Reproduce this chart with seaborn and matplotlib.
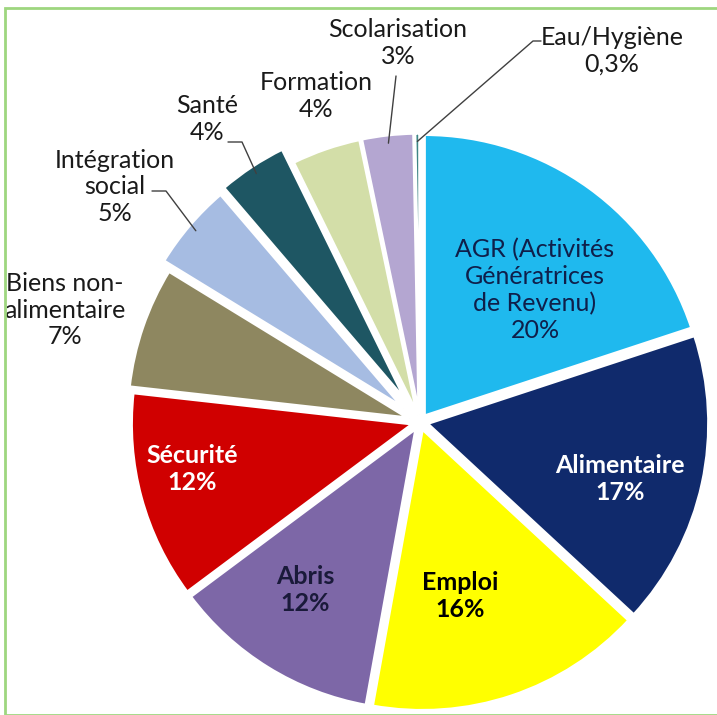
import matplotlib
matplotlib.use("Agg")
import matplotlib.pyplot as plt
import seaborn as sns
import numpy as np
from matplotlib.patches import Rectangle

# data
categories = ["AGR (Activités\nGénératrices\nde Revenu)", "Alimentaire", "Emploi", "Abris", "Sécurité",
              "Biens non-\nalimentaire", "Intégration\nsocial", "Santé", "Formation", "Scolarisation", "Eau/Hygiène"]
values = [20, 17, 16, 12, 12, 7, 5, 4, 4, 3, 0.3]
pct_labels = ["20%", "17%", "16%", "12%", "12%", "7%", "5%", "4%", "4%", "3%", "0,3%"]
colors = ["#1FB9EE", "#102A6C", "#FFFF00", "#7D67A7", "#D00000", "#8E8760",
          "#A6BCE2", "#1E5663", "#D3DEA8", "#B4A6D1", "#3E8686"]

sns.set_theme(style="white")
plt.rcParams["font.family"] = ["Lato", "DejaVu Sans"]

W, H, DPI = 717, 715, 100
CX, CY, R = 420, 422, 282  # pie centre / radius in pixels
FS = 18


def px(x, y):
    return (x - CX) / R, (CY - y) / R


fig = plt.figure(figsize=(W / DPI, H / DPI), dpi=DPI)
ax = fig.add_axes([0, 0, 1, 1])

explode = [0.025, 0.025, 0.025, 0.025, 0.025, 0.04, 0.075, 0.085, 0.025, 0.025, 0.025]
wedges, _ = ax.pie(values, colors=sns.color_palette(colors), startangle=90, counterclock=False,
                   explode=explode, radius=1.0,
                   wedgeprops=dict(edgecolor="white", linewidth=2.5))

# pie() resets the limits, so set them afterwards
ax.set_xlim(-CX / R, (W - CX) / R)
ax.set_ylim(-(H - CY) / R, CY / R)
ax.set_aspect("equal")
ax.axis("off")

# labels inside the big slices
inside = [
    (0, (535, 290), "#0F1F4A", "normal"),
    (1, (620, 479), "white", "bold"),
    (2, (460, 596), "black", "bold"),
    (3, (305, 590), "#1A1A3A", "bold"),
    (4, (192, 469), "white", "bold"),
]
for i, pos, col, weight in inside:
    x, y = px(*pos)
    ax.text(x, y, categories[i] + "\n" + pct_labels[i], ha="center", va="center",
            fontsize=FS, color=col, fontweight=weight, linespacing=1.2)

# labels outside the small slices
outside = [
    (5, (65, 310)),
    (6, (115, 187)),
    (7, (207, 119)),
    (8, (316, 96)),
    (9, (398, 43)),
    (10, (612, 51)),
]
for i, pos in outside:
    x, y = px(*pos)
    ax.text(x, y, categories[i] + "\n" + pct_labels[i], ha="center", va="center",
            fontsize=FS, color="#1A1A1A", linespacing=1.2)

# leader lines from label to slice edge
leaders = [
    (6, [(152, 191), (166, 191)]),
    (7, [(228, 142), (242, 142)]),
    (9, [(396, 76), (396, 76)]),
    (10, [(541, 41), (533, 41)]),
]
for i, pts in leaders:
    w = wedges[i]
    mid = np.deg2rad((w.theta1 + w.theta2) / 2)
    cx, cy = w.center
    tip = (cx + 0.97 * np.cos(mid), cy + 0.97 * np.sin(mid))
    p0, p1 = px(*pts[0]), px(*pts[1])
    ax.plot([p0[0], p1[0], tip[0]], [p0[1], p1[1], tip[1]], color="#404040", lw=1)

# light green frame
fig.patches.append(Rectangle((5 / W, 0), 1, 1 - 8 / H, transform=fig.transFigure,
                             fill=False, edgecolor="#9ED67F", lw=2))

fig.savefig("out.png", dpi=DPI, facecolor="white")
